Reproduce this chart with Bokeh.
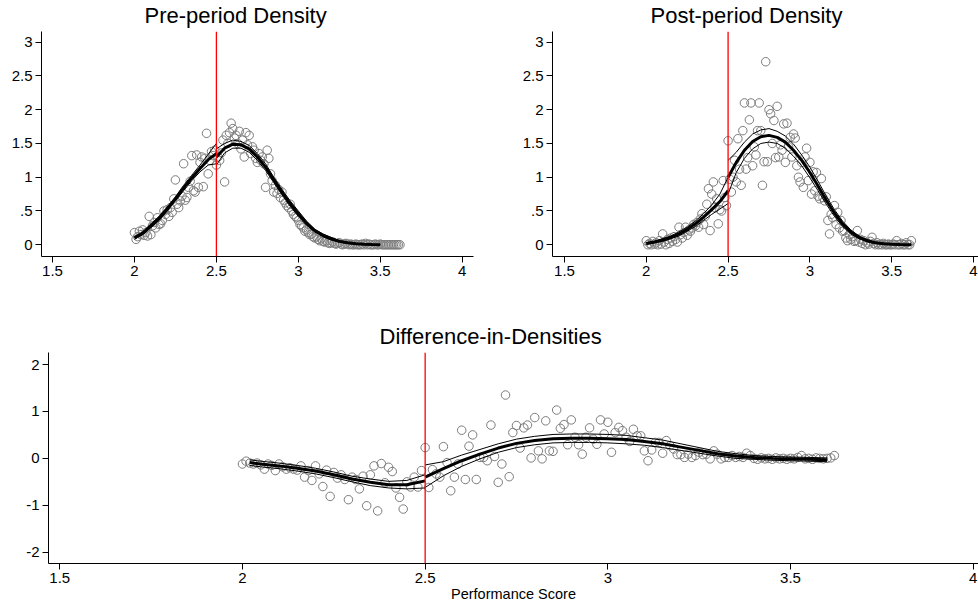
from bokeh.plotting import figure
from bokeh.layouts import column, row
from bokeh.models import FixedTicker, Span, Title, Range1d
from bokeh.embed import file_html
from bokeh.resources import INLINE

FONT = "Liberation Sans"

# ---------------- data ----------------
score_bins = [
    2.00, 2.01, 2.02, 2.03, 2.04, 2.05, 2.06, 2.07, 2.08, 2.09,
    2.10, 2.11, 2.12, 2.13, 2.14, 2.15, 2.16, 2.17, 2.18, 2.19,
    2.20, 2.21, 2.22, 2.23, 2.24, 2.25, 2.26, 2.27, 2.28, 2.29,
    2.30, 2.31, 2.32, 2.33, 2.34, 2.35, 2.36, 2.37, 2.38, 2.39,
    2.40, 2.41, 2.42, 2.43, 2.44, 2.45, 2.46, 2.47, 2.48, 2.49,
    2.50, 2.51, 2.52, 2.53, 2.54, 2.55, 2.56, 2.57, 2.58, 2.59,
    2.60, 2.61, 2.62, 2.63, 2.64, 2.65, 2.66, 2.67, 2.68, 2.69,
    2.70, 2.71, 2.72, 2.73, 2.74, 2.75, 2.76, 2.77, 2.78, 2.79,
    2.80, 2.81, 2.82, 2.83, 2.84, 2.85, 2.86, 2.87, 2.88, 2.89,
    2.90, 2.91, 2.92, 2.93, 2.94, 2.95, 2.96, 2.97, 2.98, 2.99,
    3.00, 3.01, 3.02, 3.03, 3.04, 3.05, 3.06, 3.07, 3.08, 3.09,
    3.10, 3.11, 3.12, 3.13, 3.14, 3.15, 3.16, 3.17, 3.18, 3.19,
    3.20, 3.21, 3.22, 3.23, 3.24, 3.25, 3.26, 3.27, 3.28, 3.29,
    3.30, 3.31, 3.32, 3.33, 3.34, 3.35, 3.36, 3.37, 3.38, 3.39,
    3.40, 3.41, 3.42, 3.43, 3.44, 3.45, 3.46, 3.47, 3.48, 3.49,
    3.50, 3.51, 3.52, 3.53, 3.54, 3.55, 3.56, 3.57, 3.58, 3.59,
    3.60, 3.61, 3.62,
]

pre_density = [
    0.18, 0.08, 0.12, 0.20, 0.15, 0.22, 0.14, 0.18, 0.13, 0.42,
    0.15, 0.28, 0.33, 0.25, 0.40, 0.30, 0.31, 0.36, 0.50, 0.45,
    0.52, 0.42, 0.55, 0.48, 0.68, 0.96, 0.60, 0.55, 0.65, 0.72,
    1.20, 0.66, 0.70, 0.85, 0.94, 1.32, 0.80, 0.78, 1.33, 0.85,
    1.22, 1.30, 0.86, 1.28, 1.65, 1.05, 1.25, 1.38, 1.32, 1.40,
    1.18, 1.30, 1.25, 1.36, 1.55, 0.93, 1.62, 1.50, 1.66, 1.80,
    1.72, 1.58, 1.62, 1.50, 1.68, 1.42, 1.55, 1.30, 1.66, 1.48,
    1.62, 1.35, 1.45, 1.40, 1.28, 1.22, 1.35, 1.25, 1.30, 1.20,
    0.85, 1.40, 1.28, 1.05, 0.95, 0.78, 0.88, 0.76, 0.82, 0.70,
    0.78, 0.66, 0.62, 0.58, 0.55, 0.60, 0.50, 0.45, 0.42, 0.40,
    0.36, 0.30, 0.28, 0.25, 0.20, 0.22, 0.18, 0.15, 0.16, 0.12,
    0.10, 0.12, 0.08, 0.06, 0.09, 0.05, 0.04, 0.06, 0.03, 0.02,
    0.03, 0.04, 0.02, 0.01, 0.02, 0.03, 0.01, 0.00, 0.01, 0.02,
    0.01, 0.00, 0.01, 0.00, 0.00, 0.01, 0.00, 0.00, 0.00, 0.01,
    0.00, 0.02, 0.00, 0.01, 0.00, 0.00, 0.00, 0.01, 0.00, 0.00,
    0.01, 0.00, 0.00, 0.00, 0.00, 0.00, 0.00, 0.00, 0.00, 0.00,
    0.00, 0.00, 0.00,
]

post_density = [
    0.06, 0.00, 0.02, 0.00, 0.05, 0.01, 0.03, 0.00, 0.06, 0.01,
    0.16, 0.04, 0.00, 0.08, 0.02, 0.10, 0.05, 0.12, 0.08, 0.04,
    0.26, 0.15, 0.10, 0.18, 0.26, 0.14, 0.22, 0.20, 0.25, 0.30,
    0.28, 0.33, 0.26, 0.38, 0.46, 0.30, 0.42, 0.60, 0.83, 0.21,
    0.75, 0.93, 0.55, 0.68, 0.31, 0.52, 0.50, 0.95, 0.70, 0.58,
    1.54, 0.97, 0.78, 1.00, 1.25, 0.93, 1.57, 1.12, 0.88, 1.69,
    2.10, 1.12, 1.29, 1.85, 2.10, 1.17, 1.45, 1.33, 1.69, 2.10,
    1.69, 0.88, 1.23, 2.71, 1.23, 2.00, 1.94, 1.50, 1.84, 1.29,
    2.05, 1.30, 1.48, 1.40, 1.79, 1.22, 1.80, 1.45, 1.59, 1.30,
    1.64, 1.58, 1.17, 1.00, 0.93, 1.22, 0.85, 1.30, 1.43, 0.95,
    1.22, 0.75, 1.08, 0.80, 1.07, 0.72, 0.68, 0.98, 0.70, 0.65,
    0.71, 0.36, 0.16, 0.45, 0.40, 0.58, 0.30, 0.48, 0.25, 0.36,
    0.20, 0.21, 0.10, 0.06, 0.15, 0.08, 0.12, 0.05, 0.06, 0.21,
    0.04, 0.08, 0.02, 0.06, 0.00, 0.03, 0.01, 0.05, 0.11, 0.02,
    0.00, 0.03, 0.00, 0.01, 0.00, 0.02, 0.00, 0.00, 0.01, 0.00,
    0.00, 0.01, 0.00, 0.06, 0.00, 0.00, 0.02, 0.00, 0.00, 0.03,
    0.00, 0.00, 0.06,
]

diff_density = [
    -0.12, -0.06, -0.10, -0.12, -0.10, -0.14, -0.23, -0.12, -0.15, -0.26,
    -0.12, -0.18, -0.23, -0.20, -0.23, -0.25, -0.16, -0.40, -0.26, -0.47,
    -0.16, -0.33, -0.60, -0.25, -0.81, -0.30, -0.42, -0.35, -0.45, -0.88,
    -0.40, -0.45, -0.65, -0.38, -1.01, -0.35, -0.16, -1.12, -0.11, -0.52,
    -0.19, -0.28, -0.63, -0.83, -1.08, -0.50, -0.61, -0.40, -0.61, -0.26,
    0.23, -0.62, -0.24, -0.33, -0.40, 0.25, -0.09, -0.69, -0.40, -0.12,
    0.60, -0.45, 0.26, 0.50, -0.45, 0.02, 0.02, -0.05, 0.71, 0.04,
    -0.51, -0.12, 1.35, -0.39, 0.55, 0.70, 0.22, 0.65, 0.71, 0.01,
    0.87, 0.16, -0.01, 0.80, 0.16, 0.15, 1.03, 0.64, 0.72, 0.29,
    0.82, 0.45, 0.29, 0.09, 0.45, 0.65, 0.41, 0.30, 0.82, 0.52,
    0.77, 0.13, 0.55, 0.66, 0.59, 0.45, 0.36, 0.62, 0.48, 0.48,
    0.16, -0.05, 0.18, 0.34, 0.34, 0.11, 0.38, 0.27, 0.20, 0.08,
    0.08, 0.02, 0.09, 0.02, 0.06, 0.13, 0.08, 0.09, -0.01, 0.16,
    0.09, -0.01, 0.02, 0.02, 0.06, 0.02, 0.04, 0.02, 0.11, 0.06,
    0.00, -0.02, 0.01, -0.01, 0.00, -0.02, 0.01, -0.01, 0.00, -0.02,
    0.00, -0.01, 0.02, 0.06, -0.01, 0.00, -0.02, 0.01, 0.00, -0.01,
    0.00, 0.01, 0.06,
]

# fitted densities and confidence bounds, left and right of the cutoff
left_grid = [2.00, 2.05, 2.10, 2.15, 2.20, 2.25, 2.30, 2.35, 2.40, 2.45, 2.50]

pre_left_fit = [0.10, 0.17, 0.28, 0.39, 0.53, 0.68, 0.84, 0.99, 1.13, 1.26, 1.35]
pre_left_lo = [0.08, 0.15, 0.25, 0.36, 0.50, 0.65, 0.80, 0.95, 1.08, 1.18, 1.20]
pre_left_hi = [0.12, 0.19, 0.31, 0.42, 0.56, 0.71, 0.88, 1.03, 1.18, 1.34, 1.50]

pre_right_grid = [2.50, 2.55, 2.60, 2.65, 2.70, 2.75, 2.80, 2.85, 2.90, 2.95, 3.00,
                  3.05, 3.10, 3.15, 3.20, 3.25, 3.30, 3.35, 3.40, 3.45, 3.50]
pre_right_fit = [1.30, 1.43, 1.49, 1.48, 1.42, 1.30, 1.15, 0.96, 0.78, 0.61, 0.46,
                 0.32, 0.21, 0.14, 0.09, 0.05, 0.03, 0.015, 0.007, 0.003, 0.001]
pre_right_lo = [1.18, 1.36, 1.43, 1.43, 1.37, 1.25, 1.10, 0.92, 0.74, 0.57, 0.42,
                0.29, 0.19, 0.12, 0.07, 0.04, 0.02, 0.008, 0.002, -0.001, -0.003]
pre_right_hi = [1.42, 1.50, 1.55, 1.53, 1.47, 1.35, 1.20, 1.00, 0.82, 0.65, 0.50,
                0.35, 0.23, 0.16, 0.11, 0.06, 0.04, 0.022, 0.012, 0.007, 0.005]

post_left_fit = [0.02, 0.04, 0.07, 0.11, 0.16, 0.23, 0.31, 0.41, 0.52, 0.64, 0.80]
post_left_lo = [0.01, 0.03, 0.05, 0.09, 0.13, 0.20, 0.27, 0.36, 0.45, 0.53, 0.61]
post_left_hi = [0.03, 0.05, 0.09, 0.13, 0.19, 0.26, 0.35, 0.46, 0.59, 0.75, 1.00]

post_right_grid = [2.50, 2.55, 2.60, 2.65, 2.70, 2.75, 2.80, 2.85, 2.90, 2.95, 3.00, 3.05,
                   3.10, 3.15, 3.20, 3.25, 3.30, 3.35, 3.40, 3.45, 3.50, 3.55, 3.60, 3.62]
post_right_fit = [1.00, 1.22, 1.40, 1.53, 1.60, 1.62, 1.59, 1.52, 1.40, 1.25, 1.07, 0.87,
                  0.66, 0.47, 0.31, 0.19, 0.11, 0.06, 0.03, 0.015, 0.007, 0.003, 0.001, 0.0]
post_right_lo = [0.75, 1.07, 1.28, 1.42, 1.50, 1.52, 1.50, 1.43, 1.31, 1.17, 0.99, 0.80,
                 0.60, 0.42, 0.27, 0.16, 0.09, 0.045, 0.02, 0.008, 0.002, -0.001, -0.003, -0.004]
post_right_hi = [1.25, 1.37, 1.52, 1.64, 1.70, 1.72, 1.68, 1.61, 1.49, 1.33, 1.15, 0.94,
                 0.72, 0.52, 0.35, 0.22, 0.13, 0.075, 0.04, 0.022, 0.012, 0.007, 0.005, 0.004]

diff_left_grid = [2.02, 2.05, 2.10, 2.15, 2.20, 2.25, 2.30, 2.35, 2.40, 2.45, 2.50]
diff_left_fit = [-0.09, -0.12, -0.16, -0.21, -0.27, -0.35, -0.44, -0.51, -0.56, -0.56, -0.48]
diff_left_lo = [-0.15, -0.18, -0.22, -0.27, -0.33, -0.41, -0.50, -0.58, -0.63, -0.65, -0.63]
diff_left_hi = [-0.03, -0.06, -0.10, -0.15, -0.21, -0.29, -0.38, -0.44, -0.49, -0.47, -0.35]

diff_right_grid = [2.50, 2.55, 2.60, 2.65, 2.70, 2.75, 2.80, 2.85, 2.90, 2.95, 3.00, 3.05,
                   3.10, 3.15, 3.20, 3.25, 3.30, 3.35, 3.40, 3.45, 3.50, 3.55, 3.60]
diff_right_fit = [-0.40, -0.22, -0.05, 0.09, 0.22, 0.32, 0.38, 0.42, 0.43, 0.43, 0.42, 0.40,
                  0.36, 0.31, 0.24, 0.17, 0.10, 0.05, 0.02, 0.00, -0.01, -0.02, -0.03]
diff_right_lo = [-0.62, -0.37, -0.17, -0.01, 0.13, 0.23, 0.29, 0.33, 0.34, 0.34, 0.33, 0.31,
                 0.28, 0.23, 0.17, 0.11, 0.05, 0.00, -0.02, -0.04, -0.05, -0.06, -0.07]
diff_right_hi = [-0.14, -0.07, 0.07, 0.19, 0.31, 0.41, 0.47, 0.51, 0.52, 0.52, 0.51, 0.49,
                 0.44, 0.39, 0.31, 0.23, 0.15, 0.10, 0.06, 0.04, 0.03, 0.02, 0.01]

cutoff = 2.5

x_ticks = [1.5, 2, 2.5, 3, 3.5, 4]
x_tick_labels = ["1.5", "2", "2.5", "3", "3.5", "4"]
dens_ticks = [0, 0.5, 1, 1.5, 2, 2.5, 3]
dens_tick_labels = ["0", ".5", "1", "1.5", "2", "2.5", "3"]
diff_ticks = [-2, -1, 0, 1, 2]
diff_tick_labels = ["-2", "-1", "0", "1", "2"]

titles = ["Pre-period Density", "Post-period Density", "Difference-in-Densities"]
x_label = "Performance Score"

MARKER = "#7c7c7c"
TICK_FS = "15px"
TITLE_FS = "22px"


def style_axis(ax, ticks, labels):
    ax.ticker = FixedTicker(ticks=ticks)
    ax.major_label_overrides = {t: l for t, l in zip(ticks, labels)}
    ax.axis_line_color = "black"
    ax.axis_line_width = 1
    ax.major_tick_line_color = "black"
    ax.major_tick_line_width = 1
    ax.major_tick_out = 6
    ax.major_tick_in = 0
    ax.minor_tick_line_color = None
    ax.major_label_text_font = FONT
    ax.major_label_text_font_size = TICK_FS
    ax.major_label_text_color = "black"
    ax.major_label_standoff = 3


def make_panel(width, height, xr, yr, borders, title, title_offset, yticks, ylabels):
    left, right, top, bottom = borders
    p = figure(width=width, height=height, output_backend="svg", toolbar_location=None,
               x_range=Range1d(*xr), y_range=Range1d(*yr),
               min_border_left=left, min_border_right=right,
               min_border_top=top, min_border_bottom=bottom)
    p.title = Title(text=title, align="left", offset=title_offset, vertical_align="top",
                    text_font=FONT, text_font_size=TITLE_FS, text_font_style="normal",
                    text_color="black", standoff=3)
    p.outline_line_color = None
    p.xgrid.visible = False
    p.ygrid.visible = False
    p.background_fill_color = "white"
    p.border_fill_color = "white"
    style_axis(p.xaxis[0], x_ticks, x_tick_labels)
    style_axis(p.yaxis[0], yticks, ylabels)
    return p


def add_series(p, dens, fits):
    p.scatter(score_bins, dens, marker="circle", size=8.5, fill_color=None,
              line_color=MARKER, line_width=1)
    for gx, fit, lo, hi in fits:
        p.line(gx, lo, line_color="black", line_width=1)
        p.line(gx, hi, line_color="black", line_width=1)
        p.line(gx, fit, line_color="black", line_width=3)
    p.add_layout(Span(location=cutoff, dimension="height", line_color="red", line_width=1.3))


p1 = make_panel(488, 290, (1.4329, 4.0687), (-0.174, 3.158), (41, 15, 31, 34),
                titles[0], 103, dens_ticks, dens_tick_labels)
add_series(p1, pre_density, [(left_grid, pre_left_fit, pre_left_lo, pre_left_hi),
                             (pre_right_grid, pre_right_fit, pre_right_lo, pre_right_hi)])

p2 = make_panel(490, 290, (1.4267, 4.0306), (-0.174, 3.158), (64, 0, 31, 34),
                titles[1], 98, dens_ticks, dens_tick_labels)
add_series(p2, post_density, [(left_grid, post_left_fit, post_left_lo, post_left_hi),
                              (post_right_grid, post_right_fit, post_right_lo, post_right_hi)])

p3 = make_panel(978, 317, (1.4691, 4.0145), (-2.240, 2.256), (48, 0, 62, 44),
                titles[2], 331, diff_ticks, diff_tick_labels)
add_series(p3, diff_density, [(diff_left_grid, diff_left_fit, diff_left_lo, diff_left_hi),
                              (diff_right_grid, diff_right_fit, diff_right_lo, diff_right_hi)])
p3.xaxis[0].axis_label = x_label
p3.xaxis[0].axis_label_text_font = FONT
p3.xaxis[0].axis_label_text_font_size = "14.5px"
p3.xaxis[0].axis_label_text_font_style = "normal"
p3.xaxis[0].axis_label_text_color = "black"
p3.xaxis[0].axis_label_standoff = 0

layout = column(row(p1, p2), p3)

with open("out.html", "w") as f:
    f.write(file_html(layout, INLINE))
